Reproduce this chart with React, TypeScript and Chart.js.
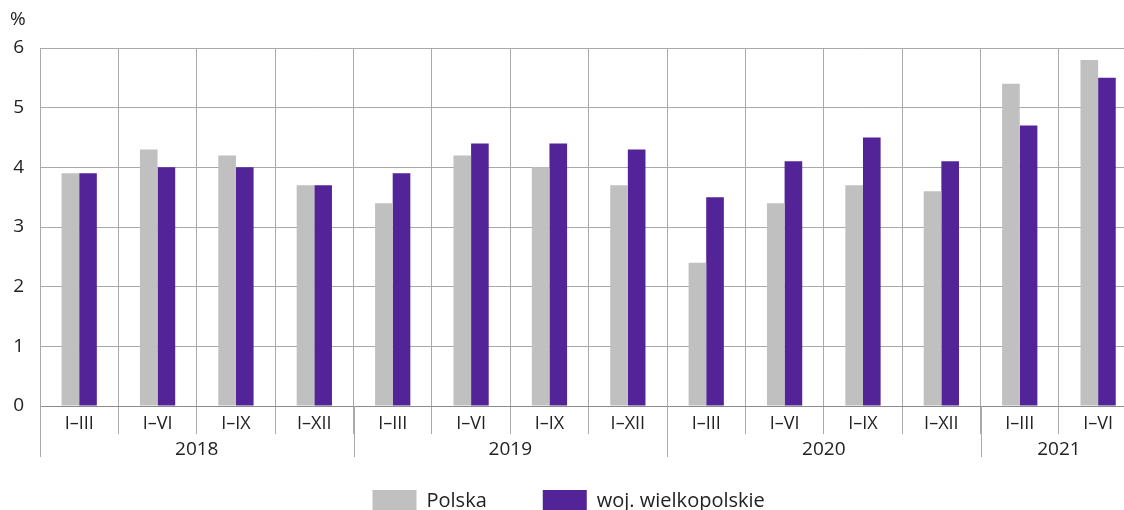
import React, { useEffect, useRef } from 'react';
import { Chart, registerables } from 'chart.js';

Chart.register(...registerables);

const periods = ['I–III', 'I–VI', 'I–IX', 'I–XII', 'I–III', 'I–VI', 'I–IX', 'I–XII', 'I–III', 'I–VI', 'I–IX', 'I–XII', 'I–III', 'I–VI'];
const years = ['2018', '2019', '2020', '2021'];
const yearSpans = [4, 4, 4, 2];
const polska = [3.9, 4.3, 4.2, 3.7, 3.4, 4.2, 4.0, 3.7, 2.4, 3.4, 3.7, 3.6, 5.4, 5.8];
const wielkopolskie = [3.9, 4.0, 4.0, 3.7, 3.9, 4.4, 4.4, 4.3, 3.5, 4.1, 4.5, 4.1, 4.7, 5.5];
const yMin = 0;
const yMax = 6;
const yStep = 1;

const FONT = '"Open Sans", "Noto Sans", sans-serif';
const TEXT = '#222222';
const GRID = '#a9a9a9';

const yearPlugin = {
  id: 'yearRow',
  afterDraw(chart: any) {
    const x = chart.scales.x;
    const ctx = chart.ctx;
    const half = (x.getPixelForValue(1) - x.getPixelForValue(0)) / 2;
    ctx.save();
    ctx.strokeStyle = GRID;
    ctx.lineWidth = 1;
    ctx.fillStyle = TEXT;
    ctx.font = `19px ${FONT}`;
    ctx.textAlign = 'center';
    ctx.textBaseline = 'middle';
    let idx = 0;
    years.forEach((yr, i) => {
      const start = idx;
      const end = idx + yearSpans[i] - 1;
      const l = x.getPixelForValue(start) - half;
      const r = x.getPixelForValue(end) + half;
      const lx = Math.round(l) + 0.5;
      ctx.beginPath();
      ctx.moveTo(lx, x.top);
      ctx.lineTo(lx, x.top + 51);
      ctx.stroke();
      ctx.fillText(yr, (l + r) / 2, x.top + 44);
      idx += yearSpans[i];
    });
    // unit label
    ctx.textAlign = 'left';
    ctx.font = `19px ${FONT}`;
    ctx.fillText('%', chart.chartArea.left - 30, chart.chartArea.top - 28);
    ctx.restore();
  },
};

export default function App() {
  const ref = useRef<HTMLCanvasElement>(null);
  useEffect(() => {
    if (!ref.current) return;
    const chart = new Chart(ref.current, {
      type: 'bar',
      data: {
        labels: periods,
        datasets: [
          { label: 'Polska', data: polska, backgroundColor: '#c0c0c0', borderWidth: 0 },
          { label: 'woj. wielkopolskie', data: wielkopolskie, backgroundColor: '#532398', borderWidth: 0 },
        ],
      },
      options: {
        responsive: false,
        animation: false,
        layout: { padding: { top: 48, left: 0, right: 2.7, bottom: 0 } },
        datasets: { bar: { categoryPercentage: 0.45, barPercentage: 1 } },
        plugins: {
          tooltip: { enabled: false },
          legend: {
            position: 'bottom',
            labels: {
              boxWidth: 44,
              boxHeight: 22,
              padding: 56,
              color: TEXT,
              font: { family: FONT, size: 20 },
            },
          },
        },
        scales: {
          x: {
            offset: true,
            grid: { offset: true, color: GRID, tickLength: 28, drawTicks: true },
            border: { color: '#8c8c8c' },
            ticks: { color: TEXT, font: { family: FONT, size: 18 }, padding: -21, maxRotation: 0, autoSkip: false },
            afterFit(scale: any) { scale.height = 28; },
          },
          y: {
            min: yMin,
            max: yMax,
            ticks: { stepSize: yStep, color: TEXT, font: { family: FONT, size: 19 }, padding: 16 },
            grid: { color: GRID, drawTicks: false },
            border: { color: GRID },
            afterFit(scale: any) { scale.width = 40; },
          },
        },
      },
      plugins: [yearPlugin],
    });
    return () => chart.destroy();
  }, []);
  return (
    <div style={{ position: 'fixed', left: 0, top: 0, width: 1124, height: 510, overflow: 'hidden', background: '#fff' }}>
      <canvas ref={ref} width={1140} height={522} style={{ display: 'block', width: 1140, height: 522 }} />
    </div>
  );
}
